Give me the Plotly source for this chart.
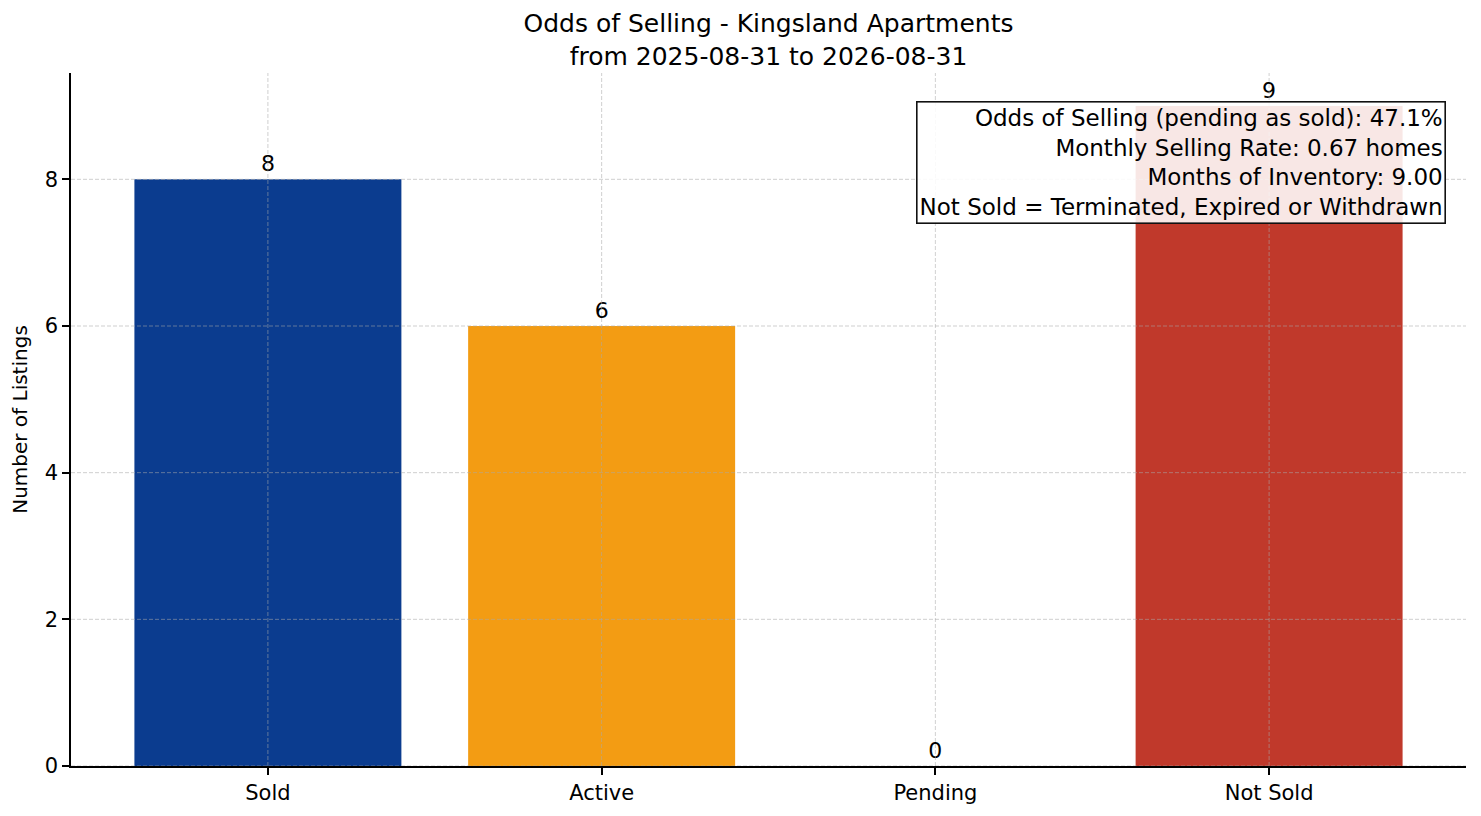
import plotly.graph_objects as go

categories = ["Sold", "Active", "Pending", "Not Sold"]
counts = [8, 6, 0, 9]
bar_colors = ["#0b3c8f", "#f39c13", "#888888", "#c0392b"]
y_ticks = [0, 2, 4, 6, 8]
title_lines = ["Odds of Selling - Kingsland Apartments", "from 2025-08-31 to 2026-08-31"]
info_lines = [
    "Odds of Selling (pending as sold): 47.1%",
    "Monthly Selling Rate: 0.67 homes",
    "Months of Inventory: 9.00",
    "Not Sold = Terminated, Expired or Withdrawn",
]

FONT = "DejaVu Sans"
x_idx = list(range(len(categories)))

fig = go.Figure()
fig.add_trace(go.Bar(
    x=x_idx, y=counts, width=0.8,
    marker=dict(color=bar_colors, line=dict(width=0)),
    text=[str(c) for c in counts], textposition="outside",
    textfont=dict(family=FONT, size=22, color="black"),
    cliponaxis=False, showlegend=False, hoverinfo="skip",
))

grid_style = dict(color="rgba(170,170,170,0.55)", width=1, dash="4px,2px")
shapes = []
for t in y_ticks:
    shapes.append(dict(type="line", xref="paper", yref="y", x0=0, x1=1, y0=t, y1=t,
                       line=grid_style, layer="above"))
for i in x_idx:
    shapes.append(dict(type="line", xref="x", yref="paper", x0=i, x1=i, y0=0, y1=1,
                       line=grid_style, layer="above"))

fig.update_layout(
    width=1473, height=808,
    paper_bgcolor="white", plot_bgcolor="white",
    margin=dict(l=63, r=15, t=65, b=50),
    font=dict(family=FONT, size=20, color="black"),
    title=dict(text="<br>".join(title_lines), x=0.5, xref="paper", xanchor="center",
               y=0.9697, yref="container", yanchor="top",
               font=dict(family=FONT, size=25, color="black")),
    shapes=shapes,
)
fig.update_xaxes(
    range=[-0.59, 3.59], tickmode="array", tickvals=x_idx, ticktext=categories,
    showline=True, linecolor="black", linewidth=1.6, ticks="outside", ticklen=7,
    tickwidth=1.6, tickcolor="black", showgrid=False, zeroline=False,
    tickfont=dict(size=21), mirror=False,
)
fig.update_yaxes(
    range=[0, 9.45], tickmode="array", tickvals=y_ticks,
    showline=True, linecolor="black", linewidth=1.6, ticks="outside", ticklen=7,
    tickwidth=1.6, tickcolor="black", showgrid=False, zeroline=False,
    tickfont=dict(size=21),
    title=dict(text="Number of Listings", font=dict(size=20), standoff=12),
)
fig.add_annotation(
    xref="paper", yref="paper", x=0.9857, y=0.9596, xanchor="right", yanchor="top",
    text="<br>".join(info_lines), align="right", showarrow=False,
    font=dict(family=FONT, size=23, color="black"),
    bgcolor="rgba(255,255,255,0.88)", bordercolor="#111111", borderwidth=1.6, borderpad=2,
)

fig.write_html("out.html")
